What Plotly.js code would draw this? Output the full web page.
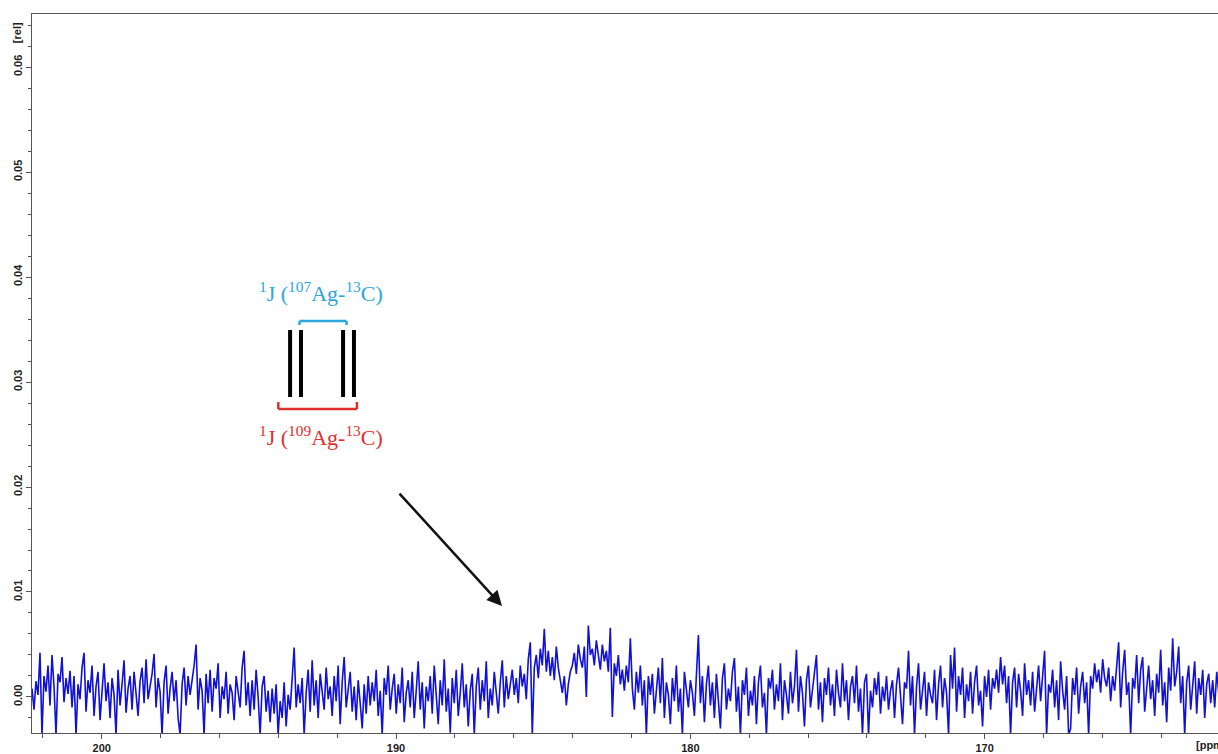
<!DOCTYPE html>
<html>
<head>
<meta charset="utf-8">
<script src="https://cdn.plot.ly/plotly-3.0.1.min.js"></script>
<style>
html,body{margin:0;padding:0;background:#fff;overflow:hidden;}
#chart{width:1218px;height:754px;}
</style>
</head>
<body>
<div id="chart"></div>
<script>
// Chemical shift axis of the spectrum (ppm), uniformly sampled
const ppm_start = 202.37;
const ppm_step = -0.068;
// Relative intensity, left (202.4 ppm) to right (162.1 ppm)
const intensity = [
8e-4,-12e-4,15e-4,2e-4,42e-4,-36e-4,20e-4,5e-4,30e-4,-8e-4,
40e-4,10e-4,-36e-4,22e-4,14e-4,38e-4,-5e-4,18e-4,3e-4,25e-4,
-10e-4,20e-4,-36e-4,12e-4,-2e-4,28e-4,42e-4,-14e-4,16e-4,4e-4,
30e-4,-18e-4,10e-4,24e-4,-22e-4,6e-4,32e-4,-4e-4,14e-4,-20e-4,
18e-4,2e-4,-36e-4,26e-4,-8e-4,12e-4,35e-4,-15e-4,8e-4,20e-4,
-12e-4,24e-4,4e-4,-18e-4,15e-4,28e-4,-6e-4,36e-4,-2e-4,10e-4,
22e-4,41e-4,-10e-4,18e-4,5e-4,-36e-4,14e-4,30e-4,-16e-4,8e-4,
24e-4,-4e-4,16e-4,-20e-4,-36e-4,12e-4,28e-4,-8e-4,20e-4,2e-4,
14e-4,30e-4,50e-4,-12e-4,18e-4,6e-4,-36e-4,22e-4,-6e-4,26e-4,
-14e-4,18e-4,8e-4,32e-4,-20e-4,10e-4,-2e-4,24e-4,-16e-4,12e-4,
4e-4,-22e-4,20e-4,6e-4,-10e-4,28e-4,44e-4,-8e-4,14e-4,-18e-4,
16e-4,-12e-4,26e-4,0,-36e-4,10e-4,20e-4,-14e-4,6e-4,-24e-4,
8e-4,-16e-4,12e-4,-36e-4,-4e-4,-20e-4,14e-4,-28e-4,2e-4,-12e-4,
20e-4,47e-4,-10e-4,12e-4,-6e-4,18e-4,-36e-4,4e-4,26e-4,-14e-4,
35e-4,-8e-4,16e-4,-20e-4,22e-4,4e-4,-12e-4,28e-4,-2e-4,10e-4,
-18e-4,20e-4,-4e-4,30e-4,-26e-4,14e-4,38e-4,-10e-4,6e-4,24e-4,
-14e-4,10e-4,-22e-4,16e-4,-6e-4,-30e-4,12e-4,-16e-4,20e-4,-8e-4,
14e-4,-4e-4,26e-4,-18e-4,6e-4,-36e-4,18e-4,2e-4,30e-4,-12e-4,
8e-4,22e-4,-16e-4,12e-4,-6e-4,28e-4,-24e-4,4e-4,16e-4,-10e-4,
24e-4,-20e-4,6e-4,34e-4,-12e-4,14e-4,-30e-4,10e-4,-4e-4,20e-4,
-16e-4,30e-4,2e-4,-26e-4,16e-4,-8e-4,36e-4,-14e-4,8e-4,-34e-4,
18e-4,-6e-4,26e-4,-18e-4,4e-4,32e-4,-10e-4,12e-4,-28e-4,6e-4,
22e-4,-36e-4,10e-4,28e-4,-12e-4,16e-4,-4e-4,34e-4,-20e-4,8e-4,
-8e-4,24e-4,4e-4,-16e-4,14e-4,35e-4,-10e-4,20e-4,-2e-4,12e-4,
26e-4,2e-4,18e-4,-6e-4,30e-4,10e-4,22e-4,-2e-4,36e-4,52e-4,
-36e-4,28e-4,40e-4,18e-4,46e-4,30e-4,65e-4,24e-4,44e-4,20e-4,
38e-4,16e-4,48e-4,28e-4,14e-4,4e-4,20e-4,-8e-4,12e-4,24e-4,
30e-4,42e-4,22e-4,50e-4,36e-4,28e-4,48e-4,0,68e-4,40e-4,
46e-4,30e-4,54e-4,38e-4,26e-4,50e-4,34e-4,44e-4,24e-4,66e-4,
-19e-4,32e-4,20e-4,40e-4,12e-4,26e-4,6e-4,30e-4,14e-4,56e-4,
8e-4,-12e-4,24e-4,4e-4,30e-4,-8e-4,16e-4,-36e-4,20e-4,2e-4,
22e-4,-16e-4,10e-4,28e-4,-6e-4,37e-4,-20e-4,14e-4,2e-4,-26e-4,
18e-4,-4e-4,30e-4,-14e-4,8e-4,-36e-4,24e-4,6e-4,-10e-4,16e-4,
4e-4,-18e-4,26e-4,59e-4,-6e-4,20e-4,-24e-4,12e-4,30e-4,-8e-4,
14e-4,-20e-4,22e-4,0,-30e-4,18e-4,32e-4,-12e-4,8e-4,-4e-4,
24e-4,37e-4,-14e-4,10e-4,-36e-4,16e-4,2e-4,28e-4,-18e-4,6e-4,
-8e-4,20e-4,-26e-4,14e-4,30e-4,-10e-4,4e-4,-36e-4,18e-4,8e-4,
26e-4,-12e-4,12e-4,-4e-4,32e-4,-22e-4,16e-4,2e-4,-16e-4,24e-4,
-6e-4,10e-4,45e-4,-14e-4,20e-4,4e-4,-28e-4,16e-4,30e-4,-10e-4,
8e-4,22e-4,40e-4,-12e-4,14e-4,-24e-4,18e-4,2e-4,28e-4,-8e-4,
12e-4,-18e-4,26e-4,4e-4,-10e-4,32e-4,-4e-4,16e-4,-22e-4,10e-4,
20e-4,-6e-4,30e-4,-14e-4,8e-4,-36e-4,14e-4,22e-4,-36e-4,6e-4,
-10e-4,18e-4,2e-4,24e-4,-16e-4,10e-4,-4e-4,20e-4,-12e-4,6e-4,
16e-4,-20e-4,12e-4,28e-4,-2e-4,-26e-4,14e-4,8e-4,44e-4,-8e-4,
20e-4,-36e-4,10e-4,32e-4,-12e-4,6e-4,24e-4,-18e-4,14e-4,2e-4,
-6e-4,26e-4,-22e-4,12e-4,30e-4,-10e-4,18e-4,4e-4,-36e-4,40e-4,
8e-4,47e-4,-14e-4,20e-4,2e-4,28e-4,-20e-4,12e-4,-4e-4,24e-4,
-16e-4,14e-4,30e-4,-8e-4,6e-4,-28e-4,20e-4,0,26e-4,-12e-4,
18e-4,8e-4,26e-4,4e-4,38e-4,12e-4,30e-4,-6e-4,20e-4,-36e-4,
14e-4,28e-4,-10e-4,22e-4,6e-4,-18e-4,32e-4,2e-4,16e-4,-8e-4,
24e-4,-14e-4,10e-4,30e-4,-4e-4,18e-4,44e-4,-36e-4,12e-4,4e-4,
26e-4,-10e-4,16e-4,-22e-4,34e-4,6e-4,-12e-4,20e-4,-36e-4,-30e-4,
18e-4,2e-4,28e-4,-16e-4,10e-4,24e-4,-6e-4,14e-4,-36e-4,20e-4,
8e-4,32e-4,14e-4,26e-4,4e-4,36e-4,18e-4,10e-4,28e-4,-4e-4,
20e-4,6e-4,30e-4,52e-4,-10e-4,24e-4,45e-4,2e-4,14e-4,-36e-4,
18e-4,8e-4,40e-4,-6e-4,26e-4,38e-4,-14e-4,12e-4,30e-4,-2e-4,
16e-4,-18e-4,22e-4,4e-4,45e-4,-8e-4,14e-4,-24e-4,28e-4,6e-4,
56e-4,10e-4,24e-4,48e-4,-6e-4,20e-4,-36e-4,14e-4,30e-4,-12e-4,
8e-4,34e-4,-16e-4,18e-4,2e-4,26e-4,-20e-4,12e-4,22e-4,-6e-4,
16e-4,-10e-4,24e-4,4e-4
];
// Stick diagram of the expected Ag-C coupling pattern (ppm positions, drawn height range)
const stick_ppm = [193.60, 193.23, 191.80, 191.43];
const stick_range = [0.02857, 0.03495];
const j107_bracket = {from: 193.28, to: 191.68, level: 0.03581, tip: 0.03543};
const j109_bracket = {from: 194.00, to: 191.33, level: 0.02743, tip: 0.02810};
const labels = [
  {text: '<sup>1</sup>J (<sup>107</sup>Ag-<sup>13</sup>C)', ppm: 192.55, y: 0.03860, color: '#2ea6dc'},
  {text: '<sup>1</sup>J (<sup>109</sup>Ag-<sup>13</sup>C)', ppm: 192.55, y: 0.02490, color: '#e0302c'}
];
const arrow = {tail: [189.93, 0.01952], head: [186.40, 0.00867]};

const trace = {
  type: 'scatter', mode: 'lines',
  x0: ppm_start, dx: ppm_step, y: intensity,
  line: {color: '#1010d8', width: 1.6},
  hoverinfo: 'skip'
};

const shapes = [];
stick_ppm.forEach(p => shapes.push({type: 'line', xref: 'x', yref: 'y', x0: p, x1: p,
  y0: stick_range[0], y1: stick_range[1], line: {color: '#000', width: 4}}));
function bracket(b, color) {
  shapes.push({type: 'line', xref: 'x', yref: 'y', x0: b.from, x1: b.to, y0: b.level, y1: b.level, line: {color: color, width: 2.5}});
  shapes.push({type: 'line', xref: 'x', yref: 'y', x0: b.from, x1: b.from, y0: b.level, y1: b.tip, line: {color: color, width: 2.5}});
  shapes.push({type: 'line', xref: 'x', yref: 'y', x0: b.to, x1: b.to, y0: b.level, y1: b.tip, line: {color: color, width: 2.5}});
}
bracket(j107_bracket, '#2ea6dc');
bracket(j109_bracket, '#e0302c');

const tickFont = {family: 'Liberation Sans, Arial, sans-serif', size: 11, color: '#222', weight: 'bold'};
const annotations = labels.map(l => ({
  text: l.text, x: l.ppm, y: l.y, xref: 'x', yref: 'y', showarrow: false,
  font: {family: 'Liberation Serif, Times New Roman, serif', size: 22, color: l.color}
}));
annotations.push({
  x: arrow.head[0], y: arrow.head[1], ax: arrow.tail[0], ay: arrow.tail[1],
  xref: 'x', yref: 'y', axref: 'x', ayref: 'y', text: '', showarrow: true,
  arrowhead: 2, arrowsize: 1.2, arrowwidth: 2.5, arrowcolor: '#111'
});
annotations.push({text: '[rel]', xref: 'paper', yref: 'paper', x: -0.0125, y: 0.9736,
  xanchor: 'center', yanchor: 'middle',
  textangle: -90, showarrow: false, font: tickFont});
annotations.push({text: '[ppm]', xref: 'paper', yref: 'paper', x: 0.9795, y: -0.0167,
  xanchor: 'left', yanchor: 'middle', showarrow: false, font: tickFont});

const layout = {
  width: 1218, height: 754,
  margin: {l: 32, r: 0, t: 14, b: 21},
  paper_bgcolor: '#fff', plot_bgcolor: '#fff',
  showlegend: false,
  xaxis: {
    range: [202.37, 162.07], autorange: false,
    showgrid: false, zeroline: false,
    showline: true, linecolor: '#555', linewidth: 1, mirror: true,
    ticks: 'outside', ticklen: 5, tickcolor: '#555', tick0: 0, dtick: 10,
    tickfont: tickFont,
    minor: {tick0: 0, dtick: 2, ticks: 'outside', ticklen: 4, tickcolor: '#555', showgrid: false}
  },
  yaxis: {
    range: [-0.00343, 0.06505], autorange: false,
    showgrid: false, zeroline: false,
    showline: true, linecolor: '#555', linewidth: 1,
    ticks: 'outside', ticklen: 5, tickcolor: '#555', tick0: 0, dtick: 0.01,
    tickformat: '.2f', tickangle: -90, tickfont: tickFont,
    minor: {tick0: 0, dtick: 0.002, ticks: 'outside', ticklen: 3, tickcolor: '#555', showgrid: false}
  },
  shapes: shapes,
  annotations: annotations
};

Plotly.newPlot('chart', [trace], layout, {displayModeBar: false, staticPlot: true});
</script>
</body>
</html>
